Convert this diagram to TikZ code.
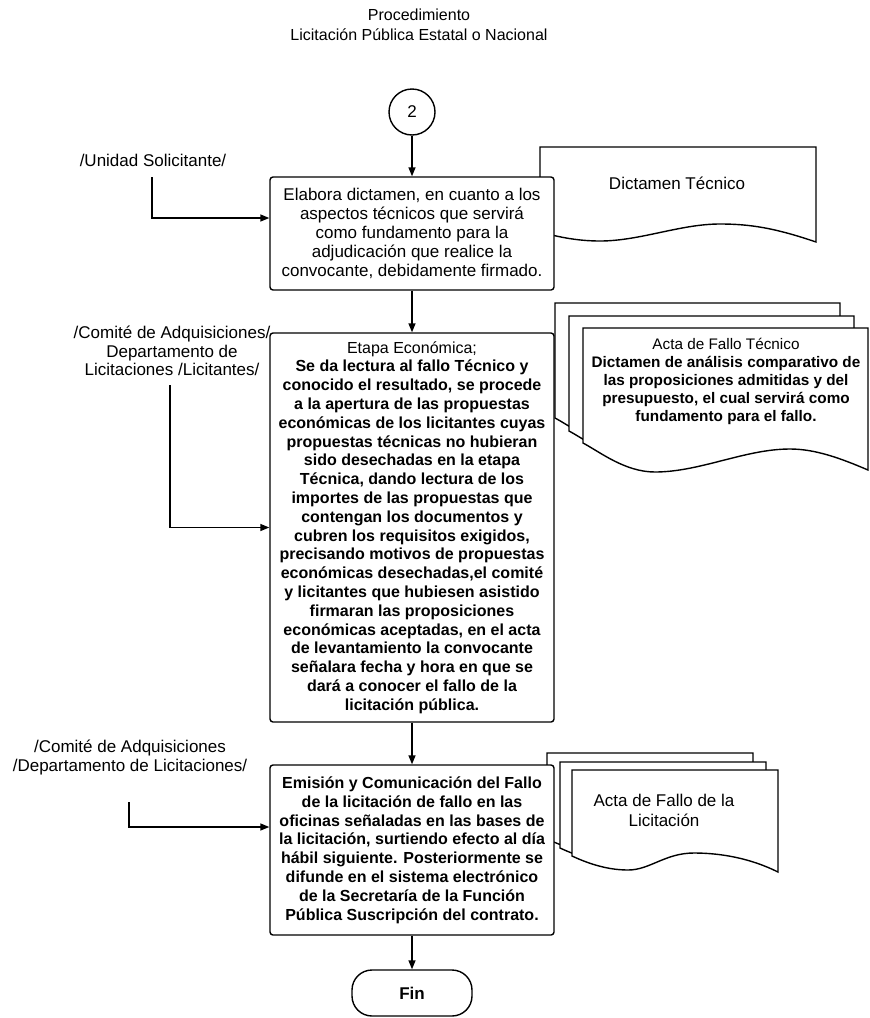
\documentclass[tikz,border=0pt]{standalone}
\usepackage{fontspec}
\setmainfont{Liberation Sans}
\usetikzlibrary{arrows.meta}

\newcommand{\regtxt}{\fontsize{17}{19}\selectfont}
\newcommand{\boldtxt}{\fontsize{16}{18.8}\selectfont\bfseries}

\tikzset{
  proc/.style={rectangle, draw, line width=1.4pt, rounded corners=3pt, align=center,
               fill=white, minimum width=284pt, inner sep=0pt},
  con/.style={circle, draw, line width=1.4pt, minimum size=46pt, inner sep=0pt,
              font=\regtxt},
  term/.style={rectangle, draw, line width=1.4pt, rounded corners=20pt, fill=white,
               minimum width=120pt, minimum height=46pt, font=\fontsize{17}{19}\selectfont\bfseries},
  docline/.style={draw, fill=white, line width=1.4pt},
  doctxt/.style={align=center, inner sep=0pt, font=\fontsize{17}{20}\selectfont},
  role/.style={align=center, inner sep=0pt, font=\fontsize{17}{18.5}\selectfont},
  fl/.style={-{Triangle[length=9pt,width=7pt]}, line width=1.4pt},
}

\begin{document}
\begin{tikzpicture}[x=1pt,y=-1pt]
\useasboundingbox[fill=white] (0,0) rectangle (870,1018);

% title
\node[align=center, inner sep=0pt, font=\fontsize{16}{20}\selectfont] (title) at (419,25)
  {Procedimiento\\Licitación Pública Estatal o Nacional};

% documents, drawn first so the boxes sit on top
\draw[docline] (540,147) -- (816,147) -- (816,242)
  .. controls (775,228) and (750,224) .. (720,224)
  .. controls (680,224) and (640,241) .. (600,241)
  .. controls (575,241) and (555,236) .. (540,232) -- cycle;
\node[doctxt] (dt) at (677,183) {Dictamen Técnico};

\foreach \dx/\dy in {-28/-25,-14/-12,0/0}
  \draw[docline, shift={(\dx,\dy)}] (583,328) -- (868,328) -- (868,470)
    .. controls (840,458) and (815,449) .. (790,449)
    .. controls (745,449) and (700,472) .. (655,472)
    .. controls (625,472) and (600,452) .. (583,443) -- cycle;
\node[align=center, inner sep=0pt, font=\fontsize{15.3}{18}\selectfont\bfseries] (aft) at (726,381)
  {{\mdseries Acta de Fallo Técnico}\\
   Dictamen de análisis comparativo de\\
   las proposiciones admitidas y del\\
   presupuesto, el cual servirá como\\
   fundamento para el fallo.};

\foreach \dx/\dy in {-25/-17,-12/-8,0/0}
  \draw[docline, shift={(\dx,\dy)}] (572,770) -- (778,770) -- (778,872)
    .. controls (750,858) and (720,853) .. (694,853)
    .. controls (665,853) and (650,870) .. (628,870)
    .. controls (605,870) and (585,862) .. (572,856) -- cycle;
\node[doctxt] (afl) at (664,810) {Acta de Fallo de la\\Licitación};

% main flow
\node[con] (c2) at (412,112) {2};
\node[proc, minimum height=113pt, font=\regtxt] (b1) at (412,233.5)
  {Elabora dictamen, en cuanto a los\\
   aspectos técnicos que servirá\\
   como fundamento para la\\
   adjudicación que realice la\\
   convocante, debidamente firmado.};
\node[proc, minimum height=389pt, font=\boldtxt] (b2) at (412,527.5)
  {{\mdseries Etapa Económica;}\\
   Se da lectura al fallo Técnico y\\
   conocido el resultado, se procede\\
   a la apertura de las propuestas\\
   económicas de los licitantes cuyas\\
   propuestas técnicas no hubieran\\
   sido desechadas en la etapa\\
   Técnica, dando lectura de los\\
   importes de las propuestas que\\
   contengan los documentos y\\
   cubren los requisitos exigidos,\\
   precisando motivos de propuestas\\
   económicas desechadas,el comité\\
   y licitantes que hubiesen asistido\\
   firmaran las proposiciones\\
   económicas aceptadas, en el acta\\
   de levantamiento la convocante\\
   señalara fecha y hora en que se\\
   dará a conocer el fallo de la\\
   licitación pública.};
\node[proc, minimum height=170pt, font=\boldtxt] (b3) at (412,850)
  {Emisión y Comunicación del Fallo\\
   de la licitación de fallo en las\\
   oficinas señaladas en las bases de\\
   la licitación, surtiendo efecto al día\\
   hábil siguiente. Posteriormente se\\
   difunde en el sistema electrónico\\
   de la Secretaría de la Función\\
   Pública Suscripción del contrato.};
\node[term] (fin) at (412,993) {Fin};

% roles
\node[role] (r1) at (153,160) {/Unidad Solicitante/};
\node[role] (r2) at (172,351) {/Comité de Adquisiciones/\\Departamento de\\Licitaciones /Licitantes/};
\node[role, font=\fontsize{17}{19}\selectfont] (r3) at (130,757) {/Comité de Adquisiciones\\/Departamento de Licitaciones/};
\coordinate (u1) at (152,177);
\coordinate (u2) at (170,385);
\coordinate (u3) at (129,802);

\draw[fl] (c2) -- (b1);
\draw[fl] (b1) -- (b2);
\draw[fl] (b2) -- (b3);
\draw[fl] (b3) -- (fin);
\draw[fl] (u1) |- ([yshift=15.5pt]b1.west);
\draw[fl] (u2) |- (b2.west);
\draw[fl] (u3) |- ([yshift=23pt]b3.west);
\end{tikzpicture}
\end{document}
